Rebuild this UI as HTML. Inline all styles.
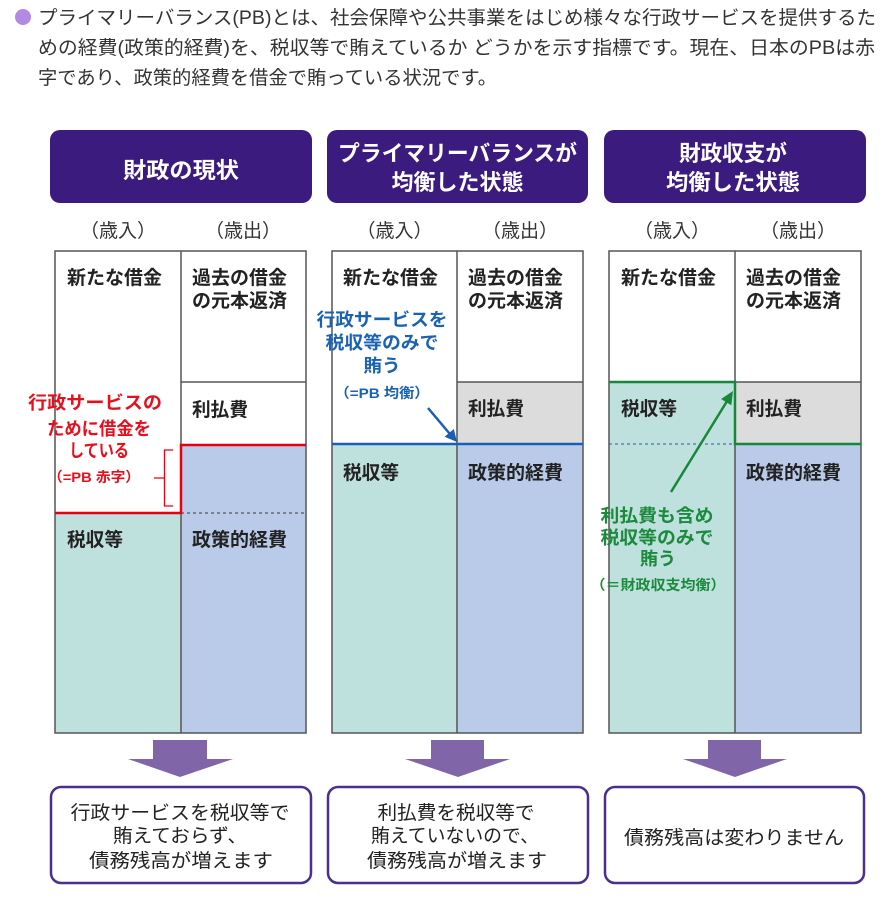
<!DOCTYPE html>
<html lang="ja">
<head>
<meta charset="utf-8">
<style>
  html, body { margin:0; padding:0; background:#ffffff; }
  body { width:886px; height:899px; overflow:hidden; }
  svg { display:block; }
  text { font-family: "Liberation Sans", "Noto Sans CJK JP", sans-serif; }
  .p { font-size:19px; fill:#333; }
  .b { font-size:19px; font-weight:bold; fill:#222; }
  .hd { font-size:22px; font-weight:bold; fill:#ffffff; }
  .lb { font-size:19px; fill:#333; }
  .red { font-size:18px; font-weight:bold; fill:#e60f1e; }
  .blu { font-size:18px; font-weight:bold; fill:#1a62b2; }
  .grn { font-size:18px; font-weight:bold; fill:#1b8a3c; }
  .bt { font-size:19px; fill:#222; }
</style>
</head>
<body>
<svg width="886" height="899" viewBox="0 0 886 899" xmlns="http://www.w3.org/2000/svg">
  <rect x="0" y="0" width="886" height="899" fill="#ffffff"/>

  <!-- Intro paragraph -->
  <circle cx="23" cy="17" r="8" fill="#b28ae4"/>
  <text class="p" x="38" y="24" textLength="838" lengthAdjust="spacingAndGlyphs">プライマリーバランス(PB)とは、社会保障や公共事業をはじめ様々な行政サービスを提供するた</text>
  <text class="p" x="38" y="54" textLength="837" lengthAdjust="spacingAndGlyphs">めの経費(政策的経費)を、税収等で賄えているか どうかを示す指標です。現在、日本のPBは赤</text>
  <text class="p" x="38" y="84" textLength="459" lengthAdjust="spacingAndGlyphs">字であり、政策的経費を借金で賄っている状況です。</text>

  <!-- Header boxes -->
  <rect x="50" y="130" width="262" height="73" rx="10" fill="#3c1b7e"/>
  <text class="hd" x="181" y="178" text-anchor="middle" textLength="116" lengthAdjust="spacingAndGlyphs">財政の現状</text>

  <rect x="327" y="130" width="261" height="73" rx="10" fill="#3c1b7e"/>
  <text class="hd" x="457.5" y="161" text-anchor="middle" textLength="239" lengthAdjust="spacingAndGlyphs">プライマリーバランスが</text>
  <text class="hd" x="457.5" y="190" text-anchor="middle" textLength="132" lengthAdjust="spacingAndGlyphs">均衡した状態</text>

  <rect x="604" y="130" width="262" height="73" rx="10" fill="#3c1b7e"/>
  <text class="hd" x="733" y="161" text-anchor="middle" textLength="108" lengthAdjust="spacingAndGlyphs">財政収支が</text>
  <text class="hd" x="733" y="190" text-anchor="middle" textLength="134" lengthAdjust="spacingAndGlyphs">均衡した状態</text>

  <!-- Column labels -->
  <text class="lb" x="118" y="237" text-anchor="middle">（歳入）</text>
  <text class="lb" x="243" y="237" text-anchor="middle">（歳出）</text>
  <text class="lb" x="394.5" y="237" text-anchor="middle">（歳入）</text>
  <text class="lb" x="520" y="237" text-anchor="middle">（歳出）</text>
  <text class="lb" x="672" y="237" text-anchor="middle">（歳入）</text>
  <text class="lb" x="798" y="237" text-anchor="middle">（歳出）</text>

  <!-- ===== Table 1 ===== -->
  <rect x="55" y="251" width="126" height="262" fill="#ffffff"/>
  <rect x="55" y="513" width="126" height="220" fill="#bfe1dd"/>
  <rect x="181" y="251" width="125" height="194" fill="#ffffff"/>
  <rect x="181" y="445" width="125" height="288" fill="#b9cbe9"/>
  <line x1="181" y1="382" x2="306" y2="382" stroke="#555" stroke-width="1.5"/>
  <line x1="181" y1="513" x2="306" y2="513" stroke="#6b6b6b" stroke-width="1.5" stroke-dasharray="3,3"/>
  <line x1="181" y1="251" x2="181" y2="733" stroke="#555" stroke-width="1.5"/>
  <rect x="55" y="251" width="251" height="482" fill="none" stroke="#555" stroke-width="1.5"/>
  <polyline points="306,445 181,445 181,513 55,513" fill="none" stroke="#e60012" stroke-width="2.5"/>
  <path d="M173,450 H164.5 V506 H173 M164.5,478 H154" fill="none" stroke="#e60012" stroke-width="1.3"/>

  <text class="b" x="67" y="284" textLength="95" lengthAdjust="spacingAndGlyphs">新たな借金</text>
  <text class="b" x="192" y="284" textLength="95" lengthAdjust="spacingAndGlyphs">過去の借金</text>
  <text class="b" x="192" y="307" textLength="95" lengthAdjust="spacingAndGlyphs">の元本返済</text>
  <text class="b" x="192" y="416" textLength="56" lengthAdjust="spacingAndGlyphs">利払費</text>
  <text class="b" x="67" y="546" textLength="56" lengthAdjust="spacingAndGlyphs">税収等</text>
  <text class="b" x="192" y="546" textLength="95" lengthAdjust="spacingAndGlyphs">政策的経費</text>

  <text class="red" x="95" y="409" text-anchor="middle" textLength="134" lengthAdjust="spacingAndGlyphs">行政サービスの</text>
  <text class="red" x="99" y="435" text-anchor="middle" textLength="104" lengthAdjust="spacingAndGlyphs">ために借金を</text>
  <text class="red" x="99" y="457" text-anchor="middle" textLength="60" lengthAdjust="spacingAndGlyphs">している</text>
  <text class="red" x="94" y="482" text-anchor="middle" textLength="92" lengthAdjust="spacingAndGlyphs" style="font-size:14px">（=PB 赤字）</text>

  <!-- ===== Table 2 ===== -->
  <rect x="332" y="251" width="125" height="193" fill="#ffffff"/>
  <rect x="332" y="444" width="125" height="289" fill="#bfe1dd"/>
  <rect x="457" y="251" width="126" height="131" fill="#ffffff"/>
  <rect x="457" y="382" width="126" height="62" fill="#dcdcdc"/>
  <rect x="457" y="444" width="126" height="289" fill="#b9cbe9"/>
  <line x1="457" y1="382" x2="583" y2="382" stroke="#555" stroke-width="1.5"/>
  <line x1="457" y1="251" x2="457" y2="733" stroke="#555" stroke-width="1.5"/>
  <rect x="332" y="251" width="251" height="482" fill="none" stroke="#555" stroke-width="1.5"/>
  <line x1="332" y1="444" x2="583" y2="444" stroke="#1a5fb4" stroke-width="2.5"/>

  <text class="b" x="343" y="284" textLength="95" lengthAdjust="spacingAndGlyphs">新たな借金</text>
  <text class="b" x="468" y="284" textLength="95" lengthAdjust="spacingAndGlyphs">過去の借金</text>
  <text class="b" x="468" y="307" textLength="95" lengthAdjust="spacingAndGlyphs">の元本返済</text>
  <text class="b" x="468" y="415" textLength="56" lengthAdjust="spacingAndGlyphs">利払費</text>
  <text class="b" x="343" y="479" textLength="56" lengthAdjust="spacingAndGlyphs">税収等</text>
  <text class="b" x="468" y="479" textLength="95" lengthAdjust="spacingAndGlyphs">政策的経費</text>

  <text class="blu" x="382" y="326" text-anchor="middle" textLength="131" lengthAdjust="spacingAndGlyphs">行政サービスを</text>
  <text class="blu" x="382" y="349" text-anchor="middle" textLength="113" lengthAdjust="spacingAndGlyphs">税収等のみで</text>
  <text class="blu" x="382" y="372" text-anchor="middle" textLength="37" lengthAdjust="spacingAndGlyphs">賄う</text>
  <text class="blu" x="382" y="398" text-anchor="middle" textLength="95" lengthAdjust="spacingAndGlyphs" style="font-size:14px">（=PB 均衡）</text>
  <line x1="428" y1="408" x2="449.5" y2="433.5" stroke="#1a5fb4" stroke-width="2.5"/>
  <polygon points="457,442 444.6,436.8 453.8,429" fill="#1a5fb4"/>

  <!-- ===== Table 3 ===== -->
  <rect x="609" y="251" width="126" height="131" fill="#ffffff"/>
  <rect x="609" y="382" width="126" height="351" fill="#bfe1dd"/>
  <rect x="735" y="251" width="126" height="131" fill="#ffffff"/>
  <rect x="735" y="382" width="126" height="62" fill="#dcdcdc"/>
  <rect x="735" y="444" width="126" height="289" fill="#b9cbe9"/>
  <line x1="735" y1="382" x2="861" y2="382" stroke="#555" stroke-width="1.5"/>
  <line x1="609" y1="444" x2="735" y2="444" stroke="#3a78c8" stroke-width="1.2" stroke-dasharray="3,3"/>
  <line x1="735" y1="251" x2="735" y2="733" stroke="#555" stroke-width="1.5"/>
  <rect x="609" y="251" width="252" height="482" fill="none" stroke="#555" stroke-width="1.5"/>
  <polyline points="609,382 735,382 735,444 861,444" fill="none" stroke="#17873a" stroke-width="2.5"/>

  <text class="b" x="621" y="284" textLength="95" lengthAdjust="spacingAndGlyphs">新たな借金</text>
  <text class="b" x="746" y="284" textLength="95" lengthAdjust="spacingAndGlyphs">過去の借金</text>
  <text class="b" x="746" y="307" textLength="95" lengthAdjust="spacingAndGlyphs">の元本返済</text>
  <text class="b" x="621" y="415" textLength="56" lengthAdjust="spacingAndGlyphs">税収等</text>
  <text class="b" x="746" y="415" textLength="56" lengthAdjust="spacingAndGlyphs">利払費</text>
  <text class="b" x="746" y="479" textLength="95" lengthAdjust="spacingAndGlyphs">政策的経費</text>

  <line x1="671" y1="492" x2="726.5" y2="402" stroke="#17873a" stroke-width="2.5"/>
  <polygon points="733,391 731.3,405.2 721.1,399" fill="#17873a"/>
  <text class="grn" x="657" y="522" text-anchor="middle" textLength="113" lengthAdjust="spacingAndGlyphs">利払費も含め</text>
  <text class="grn" x="657" y="544" text-anchor="middle" textLength="113" lengthAdjust="spacingAndGlyphs">税収等のみで</text>
  <text class="grn" x="658" y="565" text-anchor="middle" textLength="36" lengthAdjust="spacingAndGlyphs">賄う</text>
  <text class="grn" x="658" y="590" text-anchor="middle" textLength="135" lengthAdjust="spacingAndGlyphs" style="font-size:14px">（＝財政収支均衡）</text>

  <!-- Down arrows -->
  <polygon points="153,740 207,740 207,759 233,759 180,777 128,759 153,759" fill="#8066a8"/>
  <polygon points="431,740 484,740 484,759 510,759 458,777 405,759 431,759" fill="#8066a8"/>
  <polygon points="708,740 761,740 761,759 787,759 735,777 683,759 708,759" fill="#8066a8"/>

  <!-- Result boxes -->
  <rect x="51" y="787" width="260" height="96" rx="10" fill="#ffffff" stroke="#4b2f8f" stroke-width="2.5"/>
  <text class="bt" x="180" y="819" text-anchor="middle" textLength="219" lengthAdjust="spacingAndGlyphs">行政サービスを税収等で</text>
  <text class="bt" x="180" y="842" text-anchor="middle" textLength="134" lengthAdjust="spacingAndGlyphs">賄えておらず、</text>
  <text class="bt" x="181" y="867" text-anchor="middle" textLength="184" lengthAdjust="spacingAndGlyphs">債務残高が増えます</text>

  <rect x="328" y="787" width="260" height="96" rx="10" fill="#ffffff" stroke="#4b2f8f" stroke-width="2.5"/>
  <text class="bt" x="456" y="819" text-anchor="middle" textLength="157" lengthAdjust="spacingAndGlyphs">利払費を税収等で</text>
  <text class="bt" x="455" y="842" text-anchor="middle" textLength="168" lengthAdjust="spacingAndGlyphs">賄えていないので、</text>
  <text class="bt" x="457" y="867" text-anchor="middle" textLength="180" lengthAdjust="spacingAndGlyphs">債務残高が増えます</text>

  <rect x="605" y="787" width="259" height="96" rx="10" fill="#ffffff" stroke="#4b2f8f" stroke-width="2.5"/>
  <text class="bt" x="734" y="844" text-anchor="middle" textLength="220" lengthAdjust="spacingAndGlyphs">債務残高は変わりません</text>
</svg>
</body>
</html>
